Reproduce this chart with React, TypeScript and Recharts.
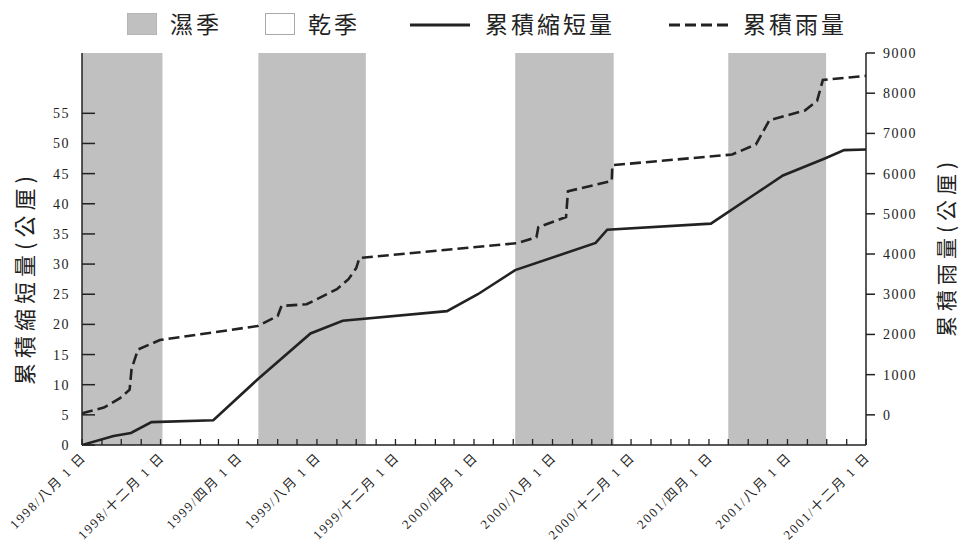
import React from "react";
import {
  ComposedChart,
  Line,
  XAxis,
  YAxis,
  ReferenceArea,
} from "recharts";

// 累積縮短量 (cm, left axis)
const shrinkDates = [
  "1998-08-01", "1998-09-19", "1998-10-16", "1998-11-17", "1999-02-21",
  "1999-05-01", "1999-07-22", "1999-09-10", "2000-02-19", "2000-04-07",
  "2000-06-04", "2000-10-07", "2000-10-25", "2001-04-04", "2001-06-13",
  "2001-07-25", "2001-09-28", "2001-10-28", "2001-12-01",
];
const shrinkValues = [
  0, 1.5, 2.0, 3.8, 4.1,
  10.9, 18.5, 20.6, 22.2, 25.0,
  29.0, 33.5, 35.7, 36.7, 41.7,
  44.7, 47.5, 48.9, 49.0,
];

// 累積雨量 (mm, right axis)
const rainDates = [
  "1998-08-01", "1998-09-04", "1998-09-29", "1998-10-14", "1998-10-17",
  "1998-10-27", "1998-11-30", "1999-05-01", "1999-06-01", "1999-06-07",
  "1999-07-16", "1999-09-01", "1999-09-19", "1999-10-01", "1999-10-06",
  "2000-06-07", "2000-07-07", "2000-07-10", "2000-08-22", "2000-08-25",
  "2000-11-01", "2000-11-02", "2001-05-07", "2001-06-13", "2001-07-04",
  "2001-08-28", "2001-09-16", "2001-09-25", "2001-12-01",
];
const rainValues = [
  40, 180, 415, 625, 1140,
  1625, 1860, 2210, 2460, 2710,
  2750, 3125, 3375, 3650, 3900,
  4270, 4420, 4670, 4920, 5560,
  5820, 6210, 6475, 6725, 7330,
  7570, 7810, 8330, 8430,
];

// wet seasons (濕季)
const wetStart = ["1998-08-01", "1999-05-02", "2000-06-04", "2001-05-01"];
const wetEnd = ["1998-12-04", "1999-10-16", "2000-11-04", "2001-09-30"];

const majorTickDates = [
  "1998-08-01", "1998-12-01", "1999-04-01", "1999-08-01", "1999-12-01",
  "2000-04-01", "2000-08-01", "2000-12-01", "2001-04-01", "2001-08-01",
  "2001-12-01",
];
const majorTickLabels = [
  "1998/八月 1 日", "1998/十二月 1 日", "1999/四月 1 日", "1999/八月 1 日",
  "1999/十二月 1 日", "2000/四月 1 日", "2000/八月 1 日", "2000/十二月 1 日",
  "2001/四月 1 日", "2001/八月 1 日", "2001/十二月 1 日",
];
const leftTicks = [0, 5, 10, 15, 20, 25, 30, 35, 40, 45, 50, 55];
const rightTicks = [0, 1000, 2000, 3000, 4000, 5000, 6000, 7000, 8000, 9000];

const t = (s: string) => Date.parse(s + "T00:00:00Z");

const shrinkData = shrinkDates.map((d, i) => ({ t: t(d), v: shrinkValues[i] }));
const rainData = rainDates.map((d, i) => ({ t: t(d), v: rainValues[i] }));

// monthly minor ticks between first and last major tick
const monthTicks: number[] = [];
for (let m = 0; m <= 40; m++) {
  monthTicks.push(Date.UTC(1998, 7 + m, 1));
}
const labelByTime: Record<number, string> = {};
majorTickDates.forEach((d, i) => {
  labelByTime[t(d)] = majorTickLabels[i];
});

const INK = "#222";
const NUM_FONT = "'Liberation Serif', 'DejaVu Serif', serif";
const CJK_FONT = "'Noto Sans CJK TC', 'Noto Sans CJK SC', sans-serif";

const XTick = (props: any) => {
  const { x, y, payload } = props;
  const label = labelByTime[payload.value];
  const lx = x + 5;
  const ly = y + 13;
  return (
    <g>
      <line x1={x} y1={y} x2={x} y2={y - 6} stroke={INK} strokeWidth={1.3} />
      {label && (
        <text
          x={lx}
          y={ly}
          textAnchor="end"
          transform={`rotate(-45 ${lx} ${ly})`}
          fontSize={13}
          letterSpacing={1.8}
          fill={INK}
          fontFamily={`${NUM_FONT}, ${CJK_FONT}`}
        >
          {label}
        </text>
      )}
    </g>
  );
};

const LeftTick = (props: any) => {
  const { x, y, payload } = props;
  return (
    <g>
      <line x1={x} y1={y} x2={x + 13} y2={y} stroke={INK} strokeWidth={1.5} />
      <text
        x={x - 12}
        y={y + 5}
        textAnchor="end"
        fontSize={14}
        letterSpacing={1.5}
        fill={INK}
        fontFamily={NUM_FONT}
      >
        {payload.value}
      </text>
    </g>
  );
};

const RightTick = (props: any) => {
  const { x, y, payload } = props;
  return (
    <g>
      <line x1={x} y1={y} x2={x + 9} y2={y} stroke={INK} strokeWidth={1.5} />
      <text
        x={x + 17}
        y={y + 5}
        textAnchor="start"
        fontSize={14}
        letterSpacing={1.5}
        fill={INK}
        fontFamily={NUM_FONT}
      >
        {payload.value}
      </text>
    </g>
  );
};

const LeftLabel = () => (
  <text
    x={23}
    y={278}
    transform="rotate(-90 23 278)"
    textAnchor="middle"
    dominantBaseline="central"
    fontSize={22}
    letterSpacing={5}
    fill={INK}
    fontFamily={CJK_FONT}
  >
    累積縮短量(公厘)
  </text>
);

const RightLabel = () => (
  <text
    x={945}
    y={247}
    transform="rotate(-90 945 247)"
    textAnchor="middle"
    dominantBaseline="central"
    fontSize={21}
    letterSpacing={5}
    fill={INK}
    fontFamily={CJK_FONT}
  >
    累積雨量(公厘)
  </text>
);

const legendText: React.CSSProperties = {
  position: "absolute",
  top: 9,
  fontSize: 23,
  letterSpacing: 3,
  lineHeight: "28px",
  color: INK,
  fontFamily: CJK_FONT,
};

function Legend() {
  return (
    <div style={{ position: "absolute", left: 0, top: 0, width: 962, height: 45 }}>
      <div style={{ position: "absolute", left: 127, top: 13, width: 28, height: 20, background: "#c0c0c0", border: "1px solid #b5b5b5" }} />
      <span style={{ ...legendText, left: 170 }}>濕季</span>
      <div style={{ position: "absolute", left: 265, top: 13, width: 28, height: 20, background: "#fff", border: "1px solid #aaa" }} />
      <span style={{ ...legendText, left: 308 }}>乾季</span>
      <svg style={{ position: "absolute", left: 410, top: 20 }} width={62} height={10}>
        <line x1={0} y1={5} x2={60} y2={5} stroke={INK} strokeWidth={3} />
      </svg>
      <span style={{ ...legendText, left: 485 }}>累積縮短量</span>
      <svg style={{ position: "absolute", left: 669, top: 20 }} width={62} height={10}>
        <line x1={0} y1={5} x2={59} y2={5} stroke={INK} strokeWidth={3} strokeDasharray="11 5" />
      </svg>
      <span style={{ ...legendText, left: 743 }}>累積雨量</span>
    </div>
  );
}

export default function App() {
  const xDomain = [t("1998-08-01"), t("2001-12-01")];
  return (
    <div style={{ position: "absolute", left: 0, top: 0, width: 962, height: 547, background: "#fff" }}>
      <ComposedChart
        width={962}
        height={547}
        margin={{ top: 53, right: 0, bottom: 0, left: 0 }}
      >
        {wetStart.map((s, i) => (
          <ReferenceArea
            key={s}
            x1={t(s)}
            x2={t(wetEnd[i])}
            yAxisId="left"
            y1={0}
            y2={65}
            fill="#c0c0c0"
            fillOpacity={1}
            stroke="none"
            ifOverflow="hidden"
          />
        ))}
        <XAxis
          dataKey="t"
          type="number"
          domain={xDomain}
          ticks={monthTicks}
          interval={0}
          height={102}
          tickSize={0}
          tickMargin={0}
          tick={<XTick />}
          axisLine={{ stroke: INK, strokeWidth: 1.5 }}
          tickLine={false}
          allowDataOverflow
        />
        <XAxis
          xAxisId="top"
          orientation="top"
          dataKey="t"
          type="number"
          domain={xDomain}
          height={0}
          tick={false}
          tickLine={false}
          axisLine={{ stroke: INK, strokeWidth: 1.5 }}
          allowDataOverflow
        />
        <YAxis
          yAxisId="left"
          type="number"
          domain={[0, 65]}
          ticks={leftTicks}
          interval={0}
          width={82}
          tickSize={0}
          tickMargin={0}
          tick={<LeftTick />}
          tickLine={false}
          axisLine={{ stroke: INK, strokeWidth: 1.5 }}
          label={<LeftLabel />}
          allowDataOverflow
        />
        <YAxis
          yAxisId="right"
          orientation="right"
          type="number"
          domain={[-750, 9000]}
          ticks={rightTicks}
          interval={0}
          width={96}
          tickSize={0}
          tickMargin={0}
          tick={<RightTick />}
          tickLine={false}
          axisLine={{ stroke: INK, strokeWidth: 1.5 }}
          label={<RightLabel />}
          allowDataOverflow
        />
        <Line
          data={shrinkData}
          dataKey="v"
          yAxisId="left"
          type="linear"
          stroke={INK}
          strokeWidth={2.6}
          dot={false}
          isAnimationActive={false}
        />
        <Line
          data={rainData}
          dataKey="v"
          yAxisId="right"
          type="linear"
          stroke={INK}
          strokeWidth={2.6}
          strokeDasharray="11 5"
          dot={false}
          isAnimationActive={false}
        />
      </ComposedChart>
      <Legend />
    </div>
  );
}
